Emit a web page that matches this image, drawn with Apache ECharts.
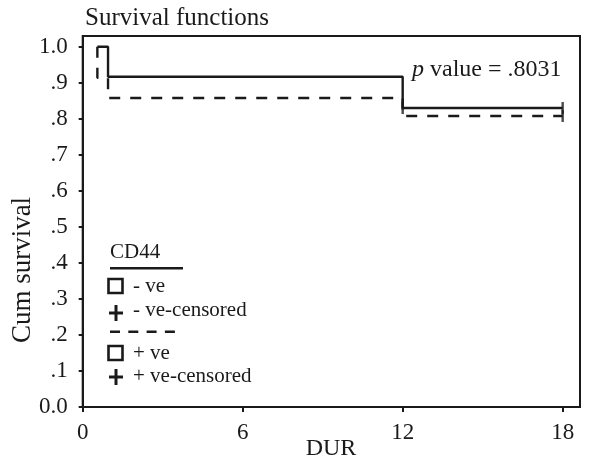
<!DOCTYPE html>
<html>
<head>
<meta charset="utf-8">
<script src="https://cdn.jsdelivr.net/npm/echarts@6/dist/echarts.min.js"></script>
<style>
html,body{margin:0;padding:0;background:#fff;}
#chart{width:589px;height:461px;}
</style>
</head>
<body>
<div id="chart"></div>
<script>
// Data (Kaplan-Meier step curves)
const negTimes = [0.55, 0.95, 12, 18];
const negSurv = [1.0, 0.917, 0.830, 0.830];
const posTimes = [0.55, 0.55, 0.95, 12, 18];
const posSurv = [1.0, 0.914, 0.858, 0.808, 0.808];
const negCensTimes = [12, 18];
const negCensSurv = [0.830, 0.830];
const posCensTimes = [18];
const posCensSurv = [0.808];
const xTicks = [0, 6, 12, 18];
const yTicks = [0, 0.1, 0.2, 0.3, 0.4, 0.5, 0.6, 0.7, 0.8, 0.9, 1.0];
const yTickLabels = ['0.0', '.1', '.2', '.3', '.4', '.5', '.6', '.7', '.8', '.9', '1.0'];
const titleText = 'Survival functions';
const pValueText = '.8031';
const legendTitle = 'CD44';
const legendLabels = ['- ve', '- ve-censored', '+ ve', '+ ve-censored'];
const xName = 'DUR';
const yName = 'Cum survival';

const FONT = 'Liberation Serif, DejaVu Serif, serif';
const INK = '#1a1a1a';

const zip = (a, b) => a.map((v, i) => [v, b[i]]);

const chart = echarts.init(document.getElementById('chart'), null, {renderer: 'canvas'});

function txt(x, y, text, size, opts) {
  return Object.assign({
    type: 'text', x: x, y: y,
    style: Object.assign({text: text, fontSize: size, fontFamily: FONT, fill: INK,
      textAlign: 'left', textVerticalAlign: 'middle'}, (opts && opts.style) || {})
  }, (opts && opts.el) || {});
}
function square(cx, cy) {
  return {type: 'rect', shape: {x: cx - 7, y: cy - 7, width: 14, height: 14},
    style: {fill: '#fff', stroke: INK, lineWidth: 2.6}};
}
function plus(cx, cy) {
  return {type: 'group', children: [
    {type: 'line', shape: {x1: cx - 7, y1: cy, x2: cx + 7, y2: cy}, style: {stroke: INK, lineWidth: 3}},
    {type: 'line', shape: {x1: cx, y1: cy - 8, x2: cx, y2: cy + 8}, style: {stroke: INK, lineWidth: 3}}
  ]};
}

const option = {
  backgroundColor: '#fff',
  animation: false,
  textStyle: {fontFamily: FONT},
  grid: {left: 82.7, right: 9, top: 36, bottom: 54, show: true, borderColor: INK, borderWidth: 2},
  xAxis: {
    type: 'value', min: 0, max: 18.65,
    axisLine: {show: true, lineStyle: {color: INK, width: 2}},
    axisTick: {show: true, length: 5, lineStyle: {color: INK, width: 2}, customValues: xTicks},
    axisLabel: {customValues: xTicks, fontFamily: FONT, fontSize: 23, color: INK, margin: 14},
    splitLine: {show: false}
  },
  yAxis: {
    type: 'value', min: 0, max: 1.03,
    axisLine: {show: true, lineStyle: {color: INK, width: 2}},
    axisTick: {show: true, length: 4, lineStyle: {color: INK, width: 2}, customValues: yTicks},
    axisLabel: {customValues: yTicks, fontFamily: FONT, fontSize: 23, color: INK, margin: 15,
      formatter: function (v) { return yTickLabels[Math.round(v * 10)]; }},
    splitLine: {show: false}
  },
  series: [
    {type: 'line', step: 'end', data: zip(negTimes, negSurv), symbol: 'none',
      lineStyle: {color: INK, width: 2.4}},
    {type: 'line', step: 'end', data: zip(posTimes, posSurv), symbol: 'none',
      lineStyle: {color: INK, width: 2.4, type: [11, 10]}},
    {type: 'scatter', data: zip(negCensTimes, negCensSurv), symbol: 'rect', symbolSize: [2.4, 12],
      itemStyle: {color: INK}},
    {type: 'scatter', data: zip(posCensTimes, posCensSurv), symbol: 'rect', symbolSize: [2.4, 12],
      itemStyle: {color: INK}}
  ],
  graphic: [
    txt(85, 18, titleText, 25),
    {type: 'text', x: 412, y: 70, style: {
      text: '{i|p} value = ' + pValueText, fontSize: 24, fontFamily: FONT, fill: INK,
      textAlign: 'left', textVerticalAlign: 'middle',
      rich: {i: {fontStyle: 'italic', fontSize: 24, fontFamily: FONT, fill: INK}}}},
    txt(331, 449, xName, 24, {style: {textAlign: 'center'}}),
    txt(23, 270, yName, 27, {style: {textAlign: 'center'}, el: {rotation: Math.PI / 2}}),
    txt(110, 252, legendTitle, 21),
    {type: 'line', shape: {x1: 110, y1: 268.3, x2: 183, y2: 268.3}, style: {stroke: INK, lineWidth: 2.4}},
    square(115.5, 286), txt(133, 286, legendLabels[0], 21),
    plus(116, 313), txt(133, 310, legendLabels[1], 21),
    {type: 'line', shape: {x1: 110, y1: 331.7, x2: 183, y2: 331.7}, style: {stroke: INK, lineWidth: 2.4, lineDash: [10, 8.3]}},
    square(115.5, 353), txt(133, 353, legendLabels[2], 21),
    plus(116, 377), txt(133, 376, legendLabels[3], 21)
  ]
};
chart.setOption(option);
</script>
</body>
</html>
